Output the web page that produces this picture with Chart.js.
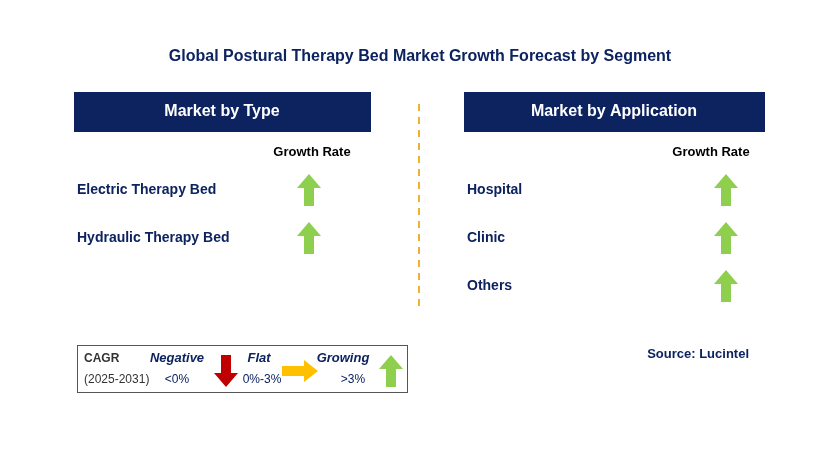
<!DOCTYPE html>
<html><head><meta charset="utf-8">
<script src="https://cdn.jsdelivr.net/npm/chart.js@4"></script>
<style>html,body{margin:0;padding:0;background:#fff}#wrap{width:829px;height:457px}</style>
</head><body><div id="wrap"><canvas id="c"></canvas></div>
<script>
const title = "Global Postural Therapy Bed Market Growth Forecast by Segment";
const typeSegments = ["Electric Therapy Bed", "Hydraulic Therapy Bed"];
const typeGrowth = ["up", "up"];
const appSegments = ["Hospital", "Clinic", "Others"];
const appGrowth = ["up", "up", "up"];
const legendLabels = ["Negative", "Flat", "Growing"];
const legendRanges = ["<0%", "0%-3%", ">3%"];
const legendArrows = ["down", "right", "up"];

const NAVY = "#0d2360";
const GREEN = "#8fcf4e";

function arrowImg(dir) {
  const c = document.createElement("canvas");
  const w = dir === "right" ? 36 : 24, h = dir === "right" ? 22 : 32;
  c.width = w; c.height = h;
  const g = c.getContext("2d");
  g.fillStyle = dir === "up" ? GREEN : dir === "down" ? "#c00000" : "#ffc000";
  g.beginPath();
  if (dir === "up") {
    g.moveTo(12, 0); g.lineTo(24, 14); g.lineTo(17, 14); g.lineTo(17, 32);
    g.lineTo(7, 32); g.lineTo(7, 14); g.lineTo(0, 14);
  } else if (dir === "down") {
    g.moveTo(12, 32); g.lineTo(24, 18); g.lineTo(17, 18); g.lineTo(17, 0);
    g.lineTo(7, 0); g.lineTo(7, 18); g.lineTo(0, 18);
  } else {
    g.moveTo(36, 11); g.lineTo(22, 0); g.lineTo(22, 6); g.lineTo(0, 6);
    g.lineTo(0, 16); g.lineTo(22, 16); g.lineTo(22, 22);
  }
  g.closePath(); g.fill();
  return c;
}

const points = [];
const styles = [];
typeSegments.forEach((s, i) => { points.push({x: 309, y: 190 + 48 * i}); styles.push(arrowImg(typeGrowth[i])); });
appSegments.forEach((s, i) => { points.push({x: 726, y: 190 + 48 * i}); styles.push(arrowImg(appGrowth[i])); });
const legendX = [226, 300, 391];
legendArrows.forEach((d, i) => { points.push({x: legendX[i], y: 371}); styles.push(arrowImg(d)); });

const textPlugin = {
  id: "infographic",
  beforeDatasetsDraw(chart) {
    const g = chart.ctx;
    g.save();
    g.textBaseline = "middle";
    g.fillStyle = NAVY;
    g.font = "bold 16px Arial, 'Liberation Sans'";
    g.textAlign = "center";
    g.fillText(title, 420, 57);
    g.fillRect(74, 92, 297, 40);
    g.fillRect(464, 92, 301, 40);
    g.fillStyle = "#fff";
    g.fillText("Market by Type", 222, 112);
    g.fillText("Market by Application", 614, 112);
    g.strokeStyle = "#f0b030"; g.lineWidth = 2; g.setLineDash([7, 6]);
    g.beginPath(); g.moveTo(419, 104); g.lineTo(419, 310); g.stroke();
    g.setLineDash([]);
    g.fillStyle = "#000";
    g.font = "bold 13px Arial, 'Liberation Sans'";
    g.fillText("Growth Rate", 312, 152);
    g.fillText("Growth Rate", 711, 152);
    g.fillStyle = NAVY;
    g.font = "bold 14px Arial, 'Liberation Sans'";
    g.textAlign = "left";
    typeSegments.forEach((s, i) => g.fillText(s, 77, 190 + 48 * i));
    appSegments.forEach((s, i) => g.fillText(s, 467, 190 + 48 * i));
    g.textAlign = "right";
    g.font = "bold 13px Arial, 'Liberation Sans'";
    g.fillText("Source: Lucintel", 749, 354);
    g.strokeStyle = "#555"; g.lineWidth = 1;
    g.strokeRect(77.5, 345.5, 330, 47);
    g.textAlign = "left";
    g.fillStyle = "#333";
    g.font = "bold 12px Arial, 'Liberation Sans'";
    g.fillText("CAGR", 84, 359);
    g.font = "12px Arial, 'Liberation Sans'";
    g.fillText("(2025-2031)", 84, 380);
    g.textAlign = "center";
    g.fillStyle = NAVY;
    g.font = "italic bold 13px Arial, 'Liberation Sans'";
    const lx = [177, 259, 343], rx = [177, 262, 353];
    legendLabels.forEach((l, i) => g.fillText(l, lx[i], 358));
    g.font = "12px Arial, 'Liberation Sans'";
    legendRanges.forEach((l, i) => g.fillText(l, rx[i], 380));
    g.restore();
  }
};

new Chart(document.getElementById("c"), {
  type: "scatter",
  data: { datasets: [{ data: points, pointStyle: styles, pointRadius: 12, pointHoverRadius: 12 }] },
  options: {
    responsive: true, maintainAspectRatio: false, animation: false,
    layout: { padding: 0, autoPadding: false },
    scales: {
      x: { display: false, min: 0, max: 829 },
      y: { display: false, min: 0, max: 457, reverse: true }
    },
    plugins: { legend: { display: false }, tooltip: { enabled: false } }
  },
  plugins: [textPlugin]
});
</script></body></html>
